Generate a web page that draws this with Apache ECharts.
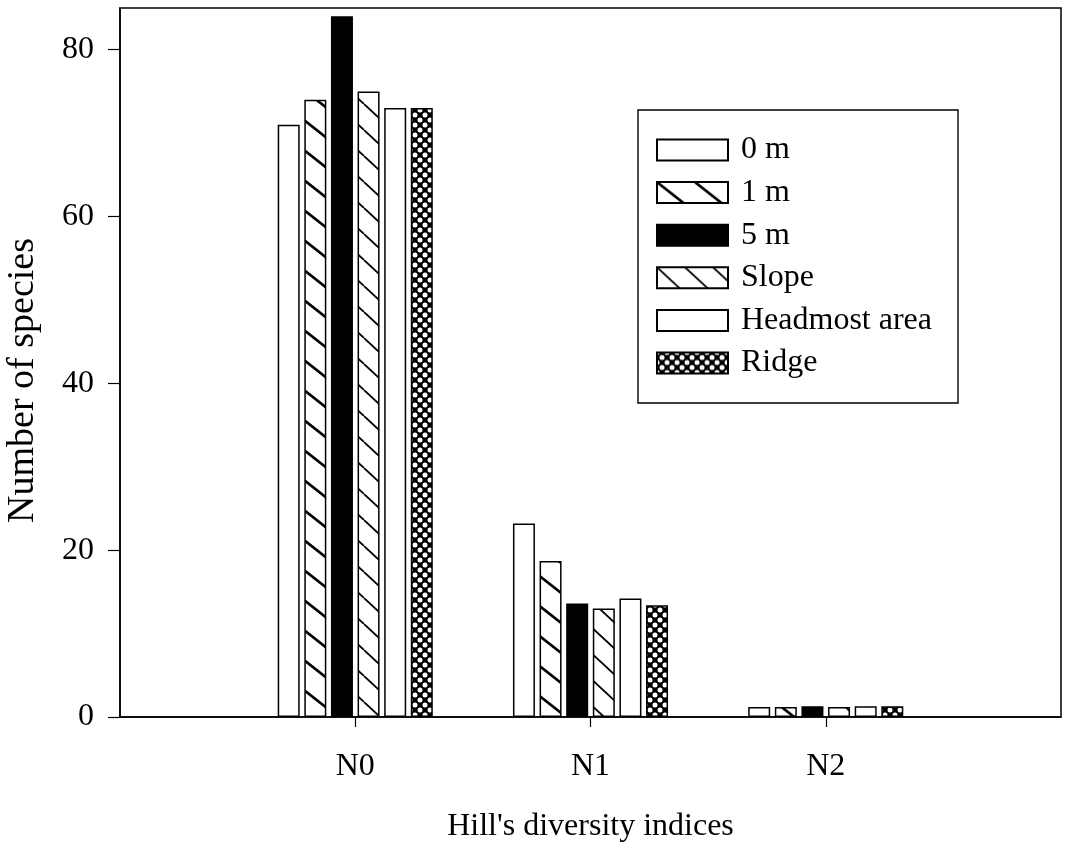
<!DOCTYPE html>
<html>
<head>
<meta charset="utf-8">
<script src="https://cdn.jsdelivr.net/npm/echarts@6/dist/echarts.min.js"></script>
<style>
  html, body { margin: 0; padding: 0; background: #fff; }
  #chart { width: 1068px; height: 845px; }
</style>
</head>
<body>
<div id="chart"></div>
<script>
// ---- data ----
const categories = ['N0', 'N1', 'N2'];
const seriesNames = ['0 m', '1 m', '5 m', 'Slope', 'Headmost area', 'Ridge'];
const v0m       = [71, 23.2, 1.2];
const v1m       = [74, 18.7, 1.2];
const v5m       = [84, 13.6, 1.3];
const vSlope    = [75, 13.0, 1.2];
const vHeadmost = [73, 14.2, 1.3];
const vRidge    = [73, 13.4, 1.3];
const yTicks = [0, 20, 40, 60, 80];
const yMax = 85;

// ---- fill patterns ----
function hatch(period, slope, lw) {
  const H = period, W = Math.round(period / slope);
  const c = document.createElement('canvas');
  c.width = W; c.height = H;
  const g = c.getContext('2d');
  g.fillStyle = '#fff'; g.fillRect(0, 0, W, H);
  g.strokeStyle = '#000'; g.lineWidth = lw;
  for (const dx of [-W, 0, W]) {
    g.beginPath(); g.moveTo(dx, 0); g.lineTo(dx + W, H); g.stroke();
  }
  return { image: c, repeat: 'repeat' };
}
function cross() {
  const s = 10, r = 2.5;
  const c = document.createElement('canvas');
  c.width = s; c.height = s;
  const g = c.getContext('2d');
  g.fillStyle = '#000'; g.fillRect(0, 0, s, s);
  g.fillStyle = '#fff';
  for (const [x, y] of [[s/2, s/2], [0, 0], [s, 0], [0, s], [s, s]]) {
    g.beginPath(); g.arc(x, y, r, 0, Math.PI * 2); g.fill();
  }
  return { image: c, repeat: 'repeat' };
}

const fills = ['#ffffff', hatch(30, 0.8, 2.6), '#000000', hatch(26, 0.92, 1.8), '#ffffff', cross()];
const values = [v0m, v1m, v5m, vSlope, vHeadmost, vRidge];

const axisCats = [''].concat(categories, ['']);
const FONT = '"Liberation Serif", "Times New Roman", serif';

const series = seriesNames.map((name, i) => ({
  name: name,
  type: 'bar',
  barWidth: 22,
  barGap: '21%',
  data: ['-'].concat(values[i], ['-']),
  itemStyle: { color: fills[i], borderColor: '#000', borderWidth: 1.5 },
  emphasis: { disabled: true },
  animation: false
}));

const chart = echarts.init(document.getElementById('chart'), null, { renderer: 'canvas' });
chart.setOption({
  backgroundColor: '#fff',
  animation: false,
  textStyle: { fontFamily: FONT, color: '#000' },
  grid: {
    left: 120, right: 7, top: 8, bottom: 128,
    outerBoundsMode: 'none',
    containLabel: false,
    show: true, borderColor: '#000', borderWidth: 1.5, backgroundColor: 'transparent'
  },
  legend: {
    orient: 'vertical',
    left: 638, top: 110,
    data: seriesNames,
    icon: 'rect',
    itemWidth: 71, itemHeight: 21, itemGap: 10.6,
    padding: [24, 26, 24, 18],
    borderColor: '#000', borderWidth: 1.4,
    backgroundColor: '#fff',
    selectedMode: false,
    textStyle: { fontFamily: FONT, fontSize: 32, color: '#000', padding: [0, 0, 0, 8] }
  },
  xAxis: {
    type: 'category',
    data: axisCats,
    boundaryGap: false,
    name: "Hill's diversity indices",
    nameLocation: 'middle',
    nameGap: 94,
    nameTextStyle: { fontFamily: FONT, fontSize: 32, color: '#000' },
    axisLine: { lineStyle: { color: '#000', width: 1.5 } },
    axisTick: {
      show: true, inside: false, length: 10,
      interval: (idx, val) => val !== '',
      lineStyle: { color: '#000', width: 1.2 }
    },
    axisLabel: {
      interval: 0, margin: 34,
      fontFamily: FONT, fontSize: 32, color: '#000'
    },
    splitLine: { show: false }
  },
  yAxis: {
    type: 'value',
    min: 0, max: yMax,
    name: 'Number of species',
    nameLocation: 'middle',
    nameGap: 78,
    nameTextStyle: { fontFamily: FONT, fontSize: 38, color: '#000', padding: [0, 36, 0, 0] },
    axisLine: { show: true, lineStyle: { color: '#000', width: 1.5 } },
    axisTick: {
      show: true, inside: false, length: 12,
      customValues: yTicks,
      lineStyle: { color: '#000', width: 1.2 }
    },
    axisLabel: {
      customValues: yTicks,
      margin: 26,
      fontFamily: FONT, fontSize: 32, color: '#000'
    },
    splitLine: { show: false }
  },
  series: series
});
</script>
</body>
</html>
